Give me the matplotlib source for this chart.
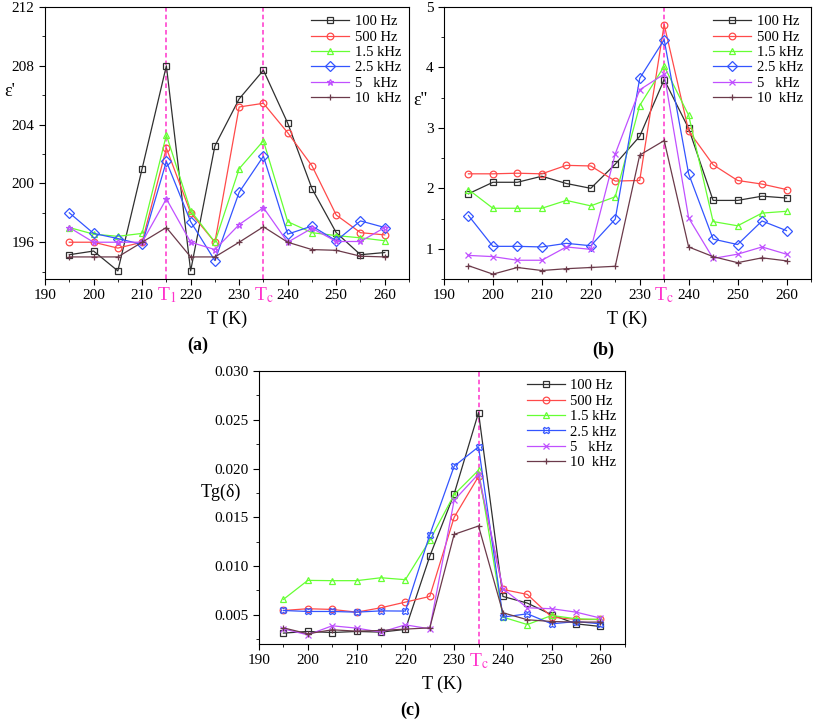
import matplotlib
matplotlib.use("Agg")
import matplotlib.pyplot as plt
from matplotlib.ticker import MultipleLocator, FormatStrFormatter
import matplotlib.transforms as mtransforms

plt.rcParams["font.family"] = ["Liberation Serif", "DejaVu Serif"]
plt.rcParams["mathtext.fontset"] = "stix"

# temperatures (K)
temps = [195, 200, 205, 210, 215, 220, 225, 230, 235, 240, 245, 250, 255, 260]
labels = ["100 Hz", "500 Hz", "1.5 kHz", "2.5 kHz", "5   kHz", "10  kHz"]

# (a) real permittivity eps'
eps1_100 = [195.15, 195.4, 194.05, 201.0, 208.0, 194.05, 202.55, 205.75, 207.7, 204.1, 199.65, 196.65, 195.15, 195.3]
eps1_500 = [196.0, 196.0, 195.6, 196.0, 202.4, 198.0, 196.0, 205.2, 205.45, 203.45, 201.2, 197.85, 196.65, 196.5]
eps1_1k5 = [197.0, 196.55, 196.4, 196.6, 203.3, 198.15, 196.0, 201.0, 202.9, 197.4, 196.65, 196.45, 196.3, 196.1]
eps1_2k5 = [198.0, 196.6, 196.25, 195.85, 201.5, 197.4, 194.75, 199.4, 201.85, 196.55, 197.1, 196.1, 197.45, 197.0]
eps1_5k = [197.0, 196.0, 196.0, 196.0, 198.95, 196.0, 195.5, 197.2, 198.35, 196.0, 196.95, 196.05, 196.05, 197.0]
eps1_10k = [195.0, 195.0, 195.0, 196.0, 197.0, 195.0, 195.0, 196.0, 197.05, 196.0, 195.5, 195.45, 195.05, 195.0]

# (b) imaginary permittivity eps''
eps2_100 = [1.91, 2.10, 2.10, 2.20, 2.08, 2.00, 2.40, 2.86, 3.80, 2.99, 1.80, 1.80, 1.87, 1.84]
eps2_500 = [2.24, 2.24, 2.25, 2.24, 2.38, 2.37, 2.12, 2.13, 4.71, 2.95, 2.39, 2.13, 2.07, 1.98]
eps2_1k5 = [1.98, 1.67, 1.67, 1.67, 1.80, 1.71, 1.86, 3.37, 4.02, 3.21, 1.45, 1.38, 1.59, 1.62]
eps2_2k5 = [1.55, 1.04, 1.04, 1.03, 1.09, 1.05, 1.49, 3.82, 4.46, 2.24, 1.16, 1.07, 1.46, 1.30]
eps2_5k = [0.89, 0.87, 0.81, 0.81, 1.03, 0.99, 2.57, 3.63, 3.89, 1.51, 0.84, 0.91, 1.03, 0.91]
eps2_10k = [0.72, 0.58, 0.69, 0.64, 0.67, 0.69, 0.71, 2.55, 2.79, 1.03, 0.87, 0.77, 0.85, 0.80]

# (c) loss tangent
tg_100 = [0.00312, 0.00329, 0.00318, 0.00329, 0.00322, 0.00350, 0.01100, 0.01740, 0.02575, 0.00688, 0.00620, 0.00500, 0.00407, 0.00380]
tg_500 = [0.00544, 0.00562, 0.00555, 0.00527, 0.00572, 0.00630, 0.00688, 0.01500, 0.01920, 0.00760, 0.00709, 0.00476, 0.00452, 0.00452]
tg_1k5 = [0.00658, 0.00853, 0.00850, 0.00850, 0.00880, 0.00860, 0.01264, 0.01733, 0.01983, 0.00476, 0.00400, 0.00493, 0.00459, 0.00452]
tg_2k5 = [0.00544, 0.00534, 0.00534, 0.00527, 0.00540, 0.00538, 0.01320, 0.02024, 0.02223, 0.00476, 0.00510, 0.00407, 0.00431, 0.00407]
tg_5k = [0.00356, 0.00294, 0.00387, 0.00363, 0.00322, 0.00397, 0.00356, 0.01675, 0.01945, 0.00767, 0.00572, 0.00562, 0.00527, 0.00466]
tg_10k = [0.00366, 0.00305, 0.00346, 0.00332, 0.00339, 0.00353, 0.00366, 0.01325, 0.01411, 0.00521, 0.00449, 0.00431, 0.00425, 0.00425]

colors = ["#303030", "#ff4a4a", "#66ff33", "#3355ff", "#c050ff", "#6b3a4a"]
tc_color = "#ff33cc"


def draw(ax, series, markers):
    for vals, lab, col, mk in zip(series, labels, colors, markers):
        ax.plot(temps, vals, color=col, lw=0.9, marker=mk, markersize=4.8,
                markerfacecolor="none", markeredgecolor=col, markeredgewidth=0.9,
                label=lab)
    ax.set_xlim(190, 265)
    ax.xaxis.set_major_locator(MultipleLocator(10))
    ax.xaxis.set_minor_locator(MultipleLocator(5))
    ax.tick_params(which="both", direction="out", labelsize=11)
    ax.tick_params(which="major", length=4)
    ax.tick_params(which="minor", length=2.5)
    ax.set_xlabel("T (K)", fontsize=13, labelpad=6)
    ax.legend(loc="upper right", frameon=False, fontsize=10.5, handlelength=2.6,
              labelspacing=0.15, borderaxespad=0.15, handletextpad=0.4)


def t_marker(ax, x, text):
    ax.axvline(x, color=tc_color, ls=(0, (3, 2)), lw=1.1, zorder=0)
    tr = mtransforms.blended_transform_factory(ax.transData, ax.transAxes)
    ax.text(x, -0.025, text, transform=tr, color=tc_color, fontsize=14,
            ha="center", va="top")


fig = plt.figure(figsize=(8.13, 7.22), dpi=100)

# (a)
ax1 = fig.add_axes([0.0554, 0.6136, 0.4477, 0.3767])
draw(ax1, [eps1_100, eps1_500, eps1_1k5, eps1_2k5, eps1_5k, eps1_10k],
     ["s", "o", "^", "D", "*", "+"])
ax1.set_ylim(193.5, 212)
ax1.yaxis.set_major_locator(MultipleLocator(4))
ax1.yaxis.set_minor_locator(MultipleLocator(2))
ax1.set_xticks([190, 200, 210, 220, 230, 240, 250, 260])
t_marker(ax1, 215, r"T$_\mathrm{1}$")
t_marker(ax1, 235, r"T$_\mathrm{c}$")
ax1.text(-0.097, 0.69, "ε'", transform=ax1.transAxes, fontsize=13,
         ha="center", va="center")
fig.text(0.243, 0.522, "(a)", fontsize=13, fontweight="bold", ha="center", va="center")

# (b)
ax2 = fig.add_axes([0.5461, 0.6136, 0.4514, 0.3767])
draw(ax2, [eps2_100, eps2_500, eps2_1k5, eps2_2k5, eps2_5k, eps2_10k],
     ["s", "o", "^", "D", "x", "+"])
ax2.set_ylim(0.5, 5)
ax2.yaxis.set_major_locator(MultipleLocator(1))
ax2.yaxis.set_minor_locator(MultipleLocator(0.5))
ax2.set_xticks([190, 200, 210, 220, 230, 240, 250, 260])
t_marker(ax2, 235, r"T$_\mathrm{c}$")
ax2.text(-0.065, 0.655, "ε''", transform=ax2.transAxes, fontsize=13,
         ha="center", va="center")
fig.text(0.742, 0.515, "(b)", fontsize=13, fontweight="bold", ha="center", va="center")

# (c)
ax3 = fig.add_axes([0.3186, 0.108, 0.450, 0.378])
draw(ax3, [tg_100, tg_500, tg_1k5, tg_2k5, tg_5k, tg_10k],
     ["s", "o", "^", "X", "x", "+"])
ax3.set_ylim(0.002, 0.030)
ax3.yaxis.set_major_locator(MultipleLocator(0.005))
ax3.yaxis.set_minor_locator(MultipleLocator(0.0025))
ax3.yaxis.set_major_formatter(FormatStrFormatter("%.3f"))
ax3.set_xticks([190, 200, 210, 220, 230, 240, 250, 260])
t_marker(ax3, 235, r"T$_\mathrm{c}$")
ax3.text(-0.105, 0.557, "Tg(δ)", transform=ax3.transAxes, fontsize=13,
         ha="center", va="center")
fig.text(0.504, 0.016, "(c)", fontsize=13, fontweight="bold", ha="center", va="center")

fig.savefig("out.png", dpi=100)
